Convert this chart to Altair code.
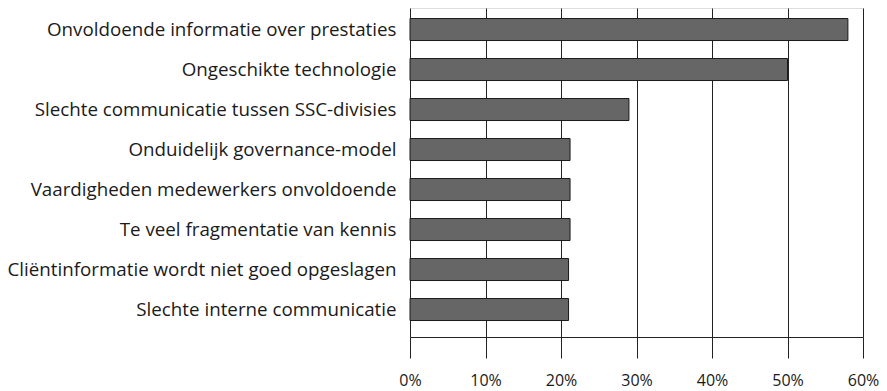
import altair as alt
import pandas as pd

# Knelpunten en het aandeel respondenten dat ze noemt (in %)
categories = [
    "Onvoldoende informatie over prestaties",
    "Ongeschikte technologie",
    "Slechte communicatie tussen SSC-divisies",
    "Onduidelijk governance-model",
    "Vaardigheden medewerkers onvoldoende",
    "Te veel fragmentatie van kennis",
    "Cliëntinformatie wordt niet goed opgeslagen",
    "Slechte interne communicatie",
]
values = [58.0, 50.0, 29.0, 21.2, 21.2, 21.2, 21.0, 21.0]
x_ticks = [0, 10, 20, 30, 40, 50, 60]

df = pd.DataFrame({"knelpunt": categories, "aandeel": [v / 100 for v in values]})

FONT = "Open Sans"
INK = "#1a1a1a"

bars = alt.Chart(df).mark_bar(
    color="#666666", stroke="#1a1a1a", strokeWidth=1
).encode(
    x=alt.X(
        "aandeel:Q",
        scale=alt.Scale(domain=[0, 0.6], nice=False, zero=True),
        axis=alt.Axis(
            values=[t / 100 for t in x_ticks],
            format=".0%",
            title=None,
            grid=True,
            gridColor="#222222",
            gridWidth=1,
            gridOpacity=1,
            domain=True,
            domainColor="#222222",
            domainWidth=1,
            ticks=True,
            tickSize=21,
            tickColor="#222222",
            tickWidth=1,
            labelFont=FONT,
            labelFontSize=16,
            labelColor=INK,
            labelPadding=14,
            labelFlush=False,
        ),
    ),
    y=alt.Y(
        "knelpunt:N",
        sort=categories,
        scale=alt.Scale(paddingInner=0.45, paddingOuter=0.3375, align=0.39),
        axis=alt.Axis(
            title=None,
            domain=False,
            ticks=False,
            grid=False,
            labelFont=FONT,
            labelFontSize=18.75,
            labelColor=INK,
            labelPadding=14,
            labelLimit=500,
        ),
    ),
)

chart = bars.properties(
    width=453,
    height=329,
    autosize=alt.AutoSizeParams(type="none"),
    padding={"left": 410, "top": 8, "right": 24, "bottom": 54},
).configure_view(stroke=None).configure(background="white")

chart.save("out.html", embed_options={"renderer": "svg", "actions": False})
